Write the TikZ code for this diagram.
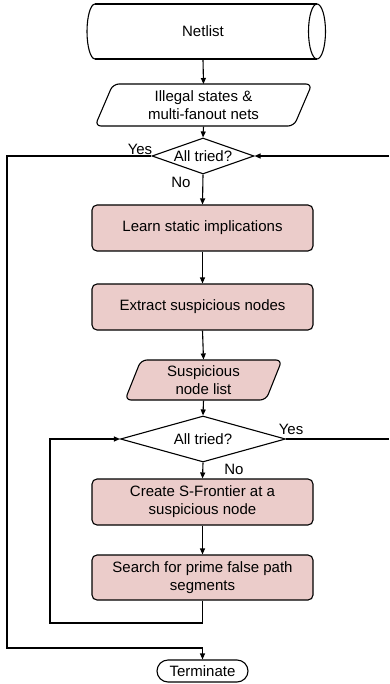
\documentclass[tikz,border=0pt]{standalone}
\usepackage{fontspec}
\setmainfont{Liberation Sans}
\usetikzlibrary{arrows.meta,shapes.geometric}
\definecolor{boxfill}{HTML}{EBCCCA}
\begin{document}
\begin{tikzpicture}[x=1pt,y=-1pt,
  line width=1.1pt,
  font=\fontsize{15}{18}\selectfont,
  arr/.style={-{Triangle[length=6pt,width=5pt]}},
  procbox/.style={draw, fill=boxfill, rounded corners=5pt, minimum width=221pt, minimum height=46pt, align=center, inner sep=0pt},
  decision/.style={diamond, draw, inner sep=0pt, align=center},
  txtnode/.style={inner sep=0pt, align=center},
  lbl/.style={inner sep=0pt}]
\useasboundingbox (0,0) rectangle (389,684);

% Netlist (horizontal cylinder)
\draw (95,4) -- (317,4);
\draw (95,59) -- (317,59);
\draw (317,31.5) ellipse [x radius=8.5, y radius=27.5];
\draw (95,4) arc [start angle=-90, end angle=-270, x radius=8, y radius=27.5];
\node[txtnode, minimum width=230pt, minimum height=55pt] (netlist) at (203,31.5) {Netlist};

% Illegal states (parallelogram)
\draw[fill=white, rounded corners=6pt] (113,84) -- (312,84) -- (294,126) -- (95,126) -- cycle;
\node[txtnode, minimum height=42pt] (illegal) at (203.5,105) {Illegal states \&\\multi-fanout nets};

% Decision 1
\node[decision, aspect=2.8, minimum width=102pt, minimum height=36pt] (dec1) at (203,156) {All tried?};

% Process boxes
\node[procbox] (learn) at (202.5,228) {Learn static implications};
\node[procbox] (extract) at (202.5,307) {Extract suspicious nodes};

% Suspicious node list (parallelogram)
\draw[fill=boxfill, rounded corners=6pt] (141,360) -- (282,360) -- (266,400) -- (125,400) -- cycle;
\node[txtnode, minimum height=40pt] (susp) at (203.5,380) {Suspicious\\node list};

% Decision 2
\node[decision, aspect=3.6, minimum width=165pt, minimum height=46pt] (dec2) at (203,439) {All tried?};

\node[procbox] (create) at (202.5,502) {Create S-Frontier at a\\suspicious node};
\node[procbox, minimum height=45pt] (search) at (202.5,577.5) {Search for prime false path\\segments};

% Terminate
\node[draw, rounded corners=11pt, minimum width=91pt, minimum height=22pt, inner sep=0pt] (term) at (202.5,671) {Terminate};

% helper coordinates
\coordinate (rin) at (389,156);
\coordinate (rout) at (389,439);
\coordinate (loopb) at (202.5,623);
\coordinate (outb) at (202.5,648);

% connectors
\draw[arr] (netlist.south) -- (illegal.south |- 0,84);
\draw[arr] (illegal.south) -- (dec1.north);
\draw[arr] (dec1.south) -- (learn.north);
\draw[arr] (learn.south) -- (extract.north);
\draw[arr] (extract.south) -- (susp.north);
\draw[arr] (susp.south) -- (dec2.north);
\draw[arr] (dec2.south) -- (create.north);
\draw[arr] (create.south) -- (search.north);
\draw[arr] (search.south) -- (loopb) -| (50,439) -- (dec2.west);
\draw[arr] (dec1.west) -| (7,648) -- (outb) -- (term.north);
\draw[arr] (rin) -- (dec1.east);
\draw (dec2.east) -- (rout);

% labels
\node[lbl] (yes1) at (140,149) {Yes};
\node[lbl] (no1) at (181,182) {No};
\node[lbl] (yes2) at (291,429) {Yes};
\node[lbl] (no2) at (234,469) {No};
\end{tikzpicture}
\end{document}
